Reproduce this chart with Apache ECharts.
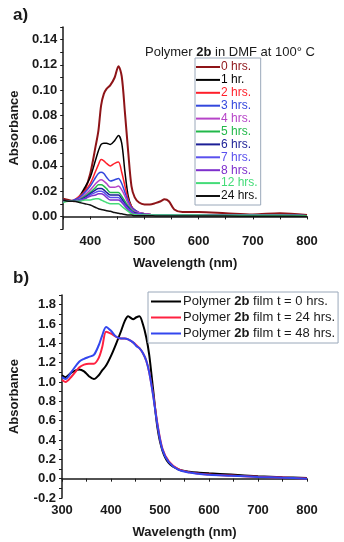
<!DOCTYPE html>
<html>
<head>
<meta charset="utf-8">
<script src="https://cdn.jsdelivr.net/npm/echarts@6/dist/echarts.min.js"></script>
<style>
  html, body { margin: 0; padding: 0; background: #fff; }
  #main { width: 344px; height: 542px; }
</style>
</head>
<body>
<div id="main"></div>
<script>
// panel a: solution spectra
const wlA = [350, 360, 370, 380, 390, 400, 410, 415, 420, 425, 430, 437, 445, 452, 458, 464, 470, 476, 482, 490, 500, 510, 520, 530, 537, 545, 555, 570, 600, 650, 700, 750, 800];
const namesA = ['0 hrs.', '1 hr.', '2 hrs.', '3 hrs.', '4 hrs.', '5 hrs.', '6 hrs.', '7 hrs.', '8 hrs.', '12 hrs.', '24 hrs.'];
const colorsA = ['#8e1418', '#000000', '#ff1f2a', '#3347dd', '#b644c8', '#22b84a', '#1c1f96', '#5a50ee', '#7e2fcc', '#44dc78', '#111111'];
const h0  = [0.014, 0.013, 0.012, 0.015, 0.021, 0.034, 0.056, 0.068, 0.088, 0.097, 0.101, 0.104, 0.110, 0.119, 0.111, 0.082, 0.051, 0.024, 0.015, 0.011, 0.0095, 0.0095, 0.0105, 0.012, 0.0135, 0.012, 0.0055, 0.0035, 0.0035, 0.0025, 0.0015, 0.0025, 0.001];
const h1  = [0.013, 0.012, 0.012, 0.016, 0.023, 0.031, 0.045, 0.052, 0.057, 0.058, 0.058, 0.057, 0.060, 0.064, 0.058, 0.035, 0.016, 0.008, 0.005, 0.003, 0.002, 0.0015, 0.001, 0.001, 0.001, 0.001, 0.001, 0.001, 0.001, 0.0008, 0.0008, 0.001, 0.0005];
const h2  = [0.013, 0.012, 0.013, 0.016, 0.020, 0.026, 0.036, 0.041, 0.045, 0.044, 0.042, 0.040, 0.042, 0.043, 0.035, 0.024, 0.0135, 0.008, 0.005, 0.003, 0.002, 0.0015, 0.001, 0.001, 0.001, 0.001, 0.001, 0.001, 0.001, 0.0008, 0.0008, 0.0008, 0.0005];
const h3  = [0.013, 0.012, 0.013, 0.015, 0.019, 0.024, 0.031, 0.034, 0.035, 0.034, 0.031, 0.028, 0.029, 0.030, 0.026, 0.019, 0.012, 0.007, 0.005, 0.003, 0.002, 0.0015, 0.001, 0.001, 0.001, 0.001, 0.001, 0.001, 0.001, 0.0008, 0.0008, 0.0008, 0.0005];
const h4  = [0.012, 0.012, 0.012, 0.014, 0.017, 0.021, 0.026, 0.028, 0.029, 0.028, 0.026, 0.023, 0.023, 0.024, 0.021, 0.016, 0.010, 0.006, 0.004, 0.003, 0.002, 0.0015, 0.001, 0.001, 0.001, 0.001, 0.001, 0.001, 0.001, 0.0008, 0.0008, 0.0008, 0.0005];
const h5  = [0.012, 0.012, 0.012, 0.013, 0.016, 0.019, 0.023, 0.025, 0.025, 0.024, 0.022, 0.019, 0.019, 0.019, 0.016, 0.012, 0.008, 0.005, 0.003, 0.002, 0.0015, 0.001, 0.001, 0.001, 0.001, 0.001, 0.001, 0.001, 0.001, 0.0008, 0.0008, 0.0008, 0.0005];
const h6  = [0.012, 0.012, 0.012, 0.013, 0.015, 0.018, 0.021, 0.022, 0.022, 0.021, 0.019, 0.017, 0.017, 0.017, 0.014, 0.010, 0.007, 0.004, 0.003, 0.002, 0.0015, 0.001, 0.001, 0.001, 0.001, 0.001, 0.001, 0.001, 0.001, 0.0008, 0.0008, 0.0008, 0.0005];
const h7  = [0.012, 0.012, 0.012, 0.013, 0.014, 0.017, 0.019, 0.020, 0.020, 0.019, 0.017, 0.015, 0.015, 0.015, 0.012, 0.009, 0.006, 0.004, 0.002, 0.002, 0.001, 0.001, 0.001, 0.001, 0.001, 0.001, 0.001, 0.001, 0.001, 0.0008, 0.0008, 0.0008, 0.0005];
const h8  = [0.012, 0.012, 0.012, 0.012, 0.014, 0.016, 0.017, 0.018, 0.018, 0.017, 0.015, 0.013, 0.013, 0.013, 0.011, 0.008, 0.005, 0.003, 0.002, 0.0015, 0.001, 0.001, 0.001, 0.001, 0.001, 0.001, 0.001, 0.001, 0.001, 0.0008, 0.0008, 0.0008, 0.0005];
const h12 = [0.011, 0.012, 0.012, 0.012, 0.013, 0.013, 0.014, 0.014, 0.013, 0.012, 0.011, 0.010, 0.010, 0.010, 0.008, 0.006, 0.004, 0.002, 0.0015, 0.001, 0.001, 0.001, 0.001, 0.001, 0.001, 0.001, 0.001, 0.001, 0.001, 0.0008, 0.0008, 0.0008, 0.0005];
const h24 = [0.013, 0.012, 0.012, 0.011, 0.010, 0.009, 0.007, 0.006, 0.0055, 0.005, 0.0045, 0.004, 0.003, 0.0025, 0.002, 0.0015, 0.001, 0.001, 0.0005, 0.0005, 0.0005, 0.0005, 0.0003, 0.0003, 0.0003, 0.0003, 0.0002, 0.0002, 0.0002, 0.0002, 0.0001, 0.0001, 0.0];
const valuesA = [h0, h1, h2, h3, h4, h5, h6, h7, h8, h12, h24];
const yLabelsA = [0, 0.02, 0.04, 0.06, 0.08, 0.10, 0.12, 0.14];
const yTicksA = [-0.01, 0, 0.01, 0.02, 0.03, 0.04, 0.05, 0.06, 0.07, 0.08, 0.09, 0.10, 0.11, 0.12, 0.13, 0.14, 0.15];

// panel b: film spectra
const wlB = [300, 307, 320, 335, 345, 355, 365, 375, 382, 390, 400, 410, 420, 428, 435, 445, 452, 458, 465, 472, 478, 486, 495, 505, 518, 538, 560, 580, 600, 645, 700, 750, 800];
const namesB = ['Polymer 2b film t = 0 hrs.', 'Polymer 2b film t = 24 hrs.', 'Polymer 2b film t = 48 hrs.'];
const colorsB = ['#000000', '#ff2140', '#3346ee'];
const film0  = [1.07, 1.05, 1.10, 1.13, 1.11, 1.06, 1.03, 1.07, 1.12, 1.17, 1.27, 1.39, 1.52, 1.63, 1.68, 1.65, 1.67, 1.68, 1.60, 1.46, 1.28, 0.92, 0.52, 0.29, 0.16, 0.095, 0.072, 0.062, 0.055, 0.042, 0.026, 0.015, 0.006];
const film24 = [1.02, 1.00, 1.06, 1.15, 1.18, 1.19, 1.19, 1.25, 1.36, 1.52, 1.50, 1.47, 1.45, 1.45, 1.44, 1.41, 1.38, 1.35, 1.30, 1.22, 1.10, 0.87, 0.56, 0.31, 0.18, 0.095, 0.065, 0.052, 0.043, 0.032, 0.020, 0.012, 0.003];
const film48 = [1.05, 1.03, 1.11, 1.21, 1.24, 1.26, 1.28, 1.38, 1.48, 1.57, 1.53, 1.47, 1.45, 1.45, 1.44, 1.41, 1.37, 1.35, 1.30, 1.22, 1.10, 0.86, 0.55, 0.30, 0.17, 0.09, 0.063, 0.05, 0.04, 0.03, 0.018, 0.01, 0.0];
const valuesB = [film0, film24, film48];
const yLabelsB = [-0.2, 0, 0.2, 0.4, 0.6, 0.8, 1.0, 1.2, 1.4, 1.6, 1.8];
const yTicksB = [-0.2, -0.1, 0, 0.1, 0.2, 0.3, 0.4, 0.5, 0.6, 0.7, 0.8, 0.9, 1.0, 1.1, 1.2, 1.3, 1.4, 1.5, 1.6, 1.7, 1.8, 1.9];

const chart = echarts.init(document.getElementById('main'));
const font = 'Liberation Sans, Arial, sans-serif';
const axisLine = { lineStyle: { color: '#1a1a1a', width: 1.5 } };
const tickLab = { color: '#1a1a1a', fontWeight: 'bold', fontSize: 13, fontFamily: font };
const nameSty = { color: '#1a1a1a', fontWeight: 'bold', fontSize: 13, fontFamily: font };

const pairs = (xs, ys) => xs.map((x, i) => [x, ys[i]]);

const seriesA = namesA.map((n, i) => ({
  name: n, type: 'line', xAxisIndex: 0, yAxisIndex: 0,
  data: pairs(wlA, valuesA[i]), symbol: 'none', smooth: 0.3,
  lineStyle: { color: colorsA[i], width: i === 0 ? 2 : 1.5 }, itemStyle: { color: colorsA[i] }
}));
const seriesB = namesB.map((n, i) => ({
  name: n, type: 'line', xAxisIndex: 1, yAxisIndex: 1,
  data: pairs(wlB, valuesB[i]), symbol: 'none', smooth: 0.3,
  lineStyle: { color: colorsB[i], width: 2 }, itemStyle: { color: colorsB[i] }
}));

chart.setOption({
  animation: false,
  backgroundColor: '#fff',
  title: [
    { text: 'a)', left: 8, top: 2, textStyle: { fontSize: 17, fontWeight: 'bold', fontFamily: font, color: '#1a1a1a' } },
    { text: 'b)', left: 8, top: 265, textStyle: { fontSize: 17, fontWeight: 'bold', fontFamily: font, color: '#1a1a1a' } },
    {
      text: '{n|Polymer }{b|2b}{n| in DMF at 100° C}', left: 140, top: 41,
      textStyle: {
        fontWeight: 'normal',
        rich: {
          n: { fontSize: 13, fontWeight: 'normal', fontFamily: font, color: '#1a1a1a' },
          b: { fontSize: 13, fontWeight: 'bold', fontFamily: font, color: '#1a1a1a' }
        }
      }
    }
  ],
  legend: [
    {
      data: namesA.map((n, i) => ({ name: n, textStyle: { color: colorsA[i] } })),
      orient: 'vertical', left: 195, top: 58,
      icon: 'rect', itemWidth: 24, itemHeight: 2, itemGap: 0.9,
      padding: [3, 3, 3, 1],
      borderColor: '#9aa8ba', borderWidth: 1, backgroundColor: '#fff',
      textStyle: { fontSize: 12, fontFamily: font, padding: [0, 0, 0, -4], lineHeight: 12 }
    },
    {
      data: namesB,
      orient: 'vertical', left: 148, top: 292,
      icon: 'rect', itemWidth: 30, itemHeight: 2, itemGap: 3,
      padding: [3, 3, 3, 3],
      borderColor: '#9aa8ba', borderWidth: 1, backgroundColor: '#fff',
      formatter: n => n.replace('2b', '{b|2b}'),
      textStyle: {
        fontSize: 13, fontFamily: font, color: '#1a1a1a', padding: [0, 0, 0, -3],
        rich: { b: { fontSize: 13, fontWeight: 'bold', fontFamily: font, color: '#1a1a1a' } }
      }
    }
  ],
  grid: [
    { left: 58, top: 27, width: 249, height: 202 },
    { left: 58, top: 295, width: 249, height: 203 }
  ],
  xAxis: [
    {
      gridIndex: 0, type: 'value', min: 350, max: 800, interval: 50,
      name: 'Wavelength (nm)', nameLocation: 'middle', nameGap: 28, nameTextStyle: nameSty,
      axisLine: axisLine, splitLine: { show: false },
      axisTick: { length: 3, lineStyle: { color: '#1a1a1a' } },
      axisLabel: Object.assign({ margin: 6, formatter: v => (v % 100 === 0 ? String(v) : '') }, tickLab)
    },
    {
      gridIndex: 1, type: 'value', min: 300, max: 800, interval: 50,
      name: 'Wavelength (nm)', nameLocation: 'middle', nameGap: 28, nameTextStyle: nameSty,
      axisLine: axisLine, splitLine: { show: false },
      axisTick: { length: 3, lineStyle: { color: '#1a1a1a' } },
      axisLabel: Object.assign({ margin: 6, formatter: v => (v % 100 === 0 ? String(v) : '') }, tickLab)
    }
  ],
  yAxis: [
    {
      gridIndex: 0, type: 'value', min: -0.01, max: 0.15,
      name: 'Absorbance', nameLocation: 'middle', nameGap: 41, nameTextStyle: nameSty,
      axisLine: Object.assign({ show: true }, axisLine), splitLine: { show: false },
      axisTick: { show: true, length: 3, customValues: yTicksA, lineStyle: { color: '#1a1a1a' } },
      axisLabel: Object.assign({ margin: 6, customValues: yLabelsA, formatter: v => v.toFixed(2) }, tickLab)
    },
    {
      gridIndex: 1, type: 'value', min: -0.2, max: 1.9,
      name: 'Absorbance', nameLocation: 'middle', nameGap: 41, nameTextStyle: nameSty,
      axisLine: Object.assign({ show: true }, axisLine), splitLine: { show: false },
      axisTick: { show: true, length: 3, customValues: yTicksB, lineStyle: { color: '#1a1a1a' } },
      axisLabel: Object.assign({ margin: 6, customValues: yLabelsB, formatter: v => v.toFixed(1) }, tickLab)
    }
  ],
  series: seriesA.concat(seriesB)
});
</script>
</body>
</html>
